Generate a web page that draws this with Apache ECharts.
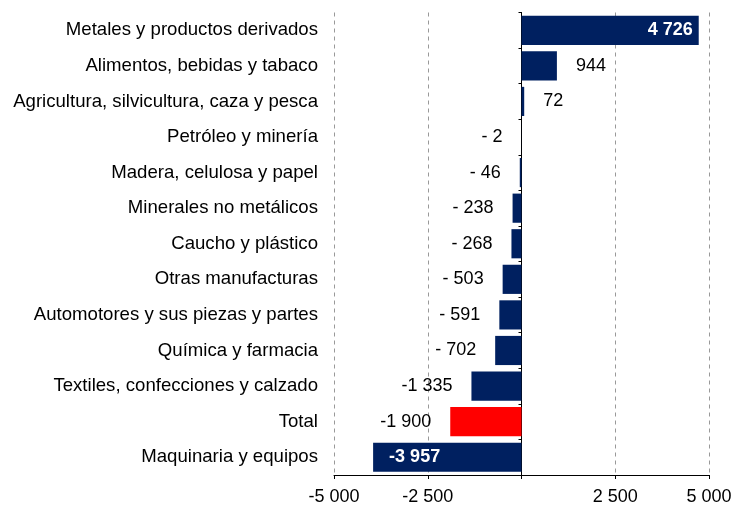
<!DOCTYPE html>
<html>
<head>
<meta charset="utf-8">
<script src="https://cdn.jsdelivr.net/npm/echarts@6/dist/echarts.min.js"></script>
<style>
  html, body { margin: 0; padding: 0; background: #fff; }
  #chart { width: 733px; height: 506px; }
</style>
</head>
<body>
<div id="chart"></div>
<script>
// sectores, de arriba hacia abajo
const categories = [
  'Metales y productos derivados',
  'Alimentos, bebidas y tabaco',
  'Agricultura, silvicultura, caza y pesca',
  'Petróleo y minería',
  'Madera, celulosa y papel',
  'Minerales no metálicos',
  'Caucho y plástico',
  'Otras manufacturas',
  'Automotores y sus piezas y partes',
  'Química y farmacia',
  'Textiles, confecciones y calzado',
  'Total',
  'Maquinaria y equipos'
];
const values = [4726, 944, 72, -2, -46, -238, -268, -503, -591, -702, -1335, -1900, -3957];
const totalName = 'Total';

const NAVY = '#002060';
const RED = '#ff0000';
const FONT = '"Liberation Sans", Arial, sans-serif';

// 1 335 / - 238 style
function fmt(v) {
  const a = Math.abs(v);
  const s = String(a).replace(/\B(?=(\d{3})+(?!\d))/g, ' ');
  if (v < 0) return a < 1000 ? '- ' + s : '-' + s;
  return s;
}

const data = values.map(function (v, i) {
  const big = Math.abs(v) >= 2500;
  let label;
  if (big) {
    label = {
      position: v > 0 ? 'insideRight' : 'insideLeft',
      distance: v > 0 ? 6 : 16,
      color: '#fff',
      fontWeight: 'bold'
    };
  } else {
    label = {
      position: v >= 0 ? 'right' : 'left',
      distance: 19,
      color: '#000',
      fontWeight: 'normal'
    };
  }
  return {
    value: v,
    itemStyle: { color: categories[i] === totalName ? RED : NAVY },
    label: label
  };
});

const chart = echarts.init(document.getElementById('chart'));
chart.setOption({
  animation: false,
  textStyle: { fontFamily: FONT },
  grid: {
    left: 334, right: 24, top: 12.5, bottom: 31,
    containLabel: false,
    outerBoundsMode: 'none'
  },
  xAxis: {
    type: 'value',
    min: -5000,
    max: 5000,
    interval: 2500,
    axisLine: { show: true, lineStyle: { color: '#000', width: 1 } },
    axisTick: { show: true, length: 4, lineStyle: { color: '#000' } },
    axisLabel: {
      color: '#000',
      fontSize: 18,
      fontFamily: FONT,
      margin: 13,
      formatter: function (v) { return v === 0 ? '' : fmt(v).replace('- ', '-'); }
    },
    splitLine: {
      show: true,
      lineStyle: { color: '#999', type: [4, 4], width: 1 }
    }
  },
  yAxis: {
    type: 'category',
    data: categories,
    inverse: true,
    axisLine: { show: true, onZero: true, lineStyle: { color: '#000', width: 1 } },
    axisTick: { show: true, length: 3, lineStyle: { color: '#000' } },
    axisLabel: {
      color: '#000',
      fontSize: 18.6,
      fontFamily: FONT,
      margin: 16,
      padding: [4, 0, 0, 0]
    },
    splitLine: { show: false }
  },
  series: [{
    type: 'bar',
    data: data,
    barCategoryGap: '18%',
    label: {
      show: true,
      fontSize: 18,
      fontFamily: FONT,
      formatter: function (p) { return fmt(p.value); }
    }
  }]
});
</script>
</body>
</html>
